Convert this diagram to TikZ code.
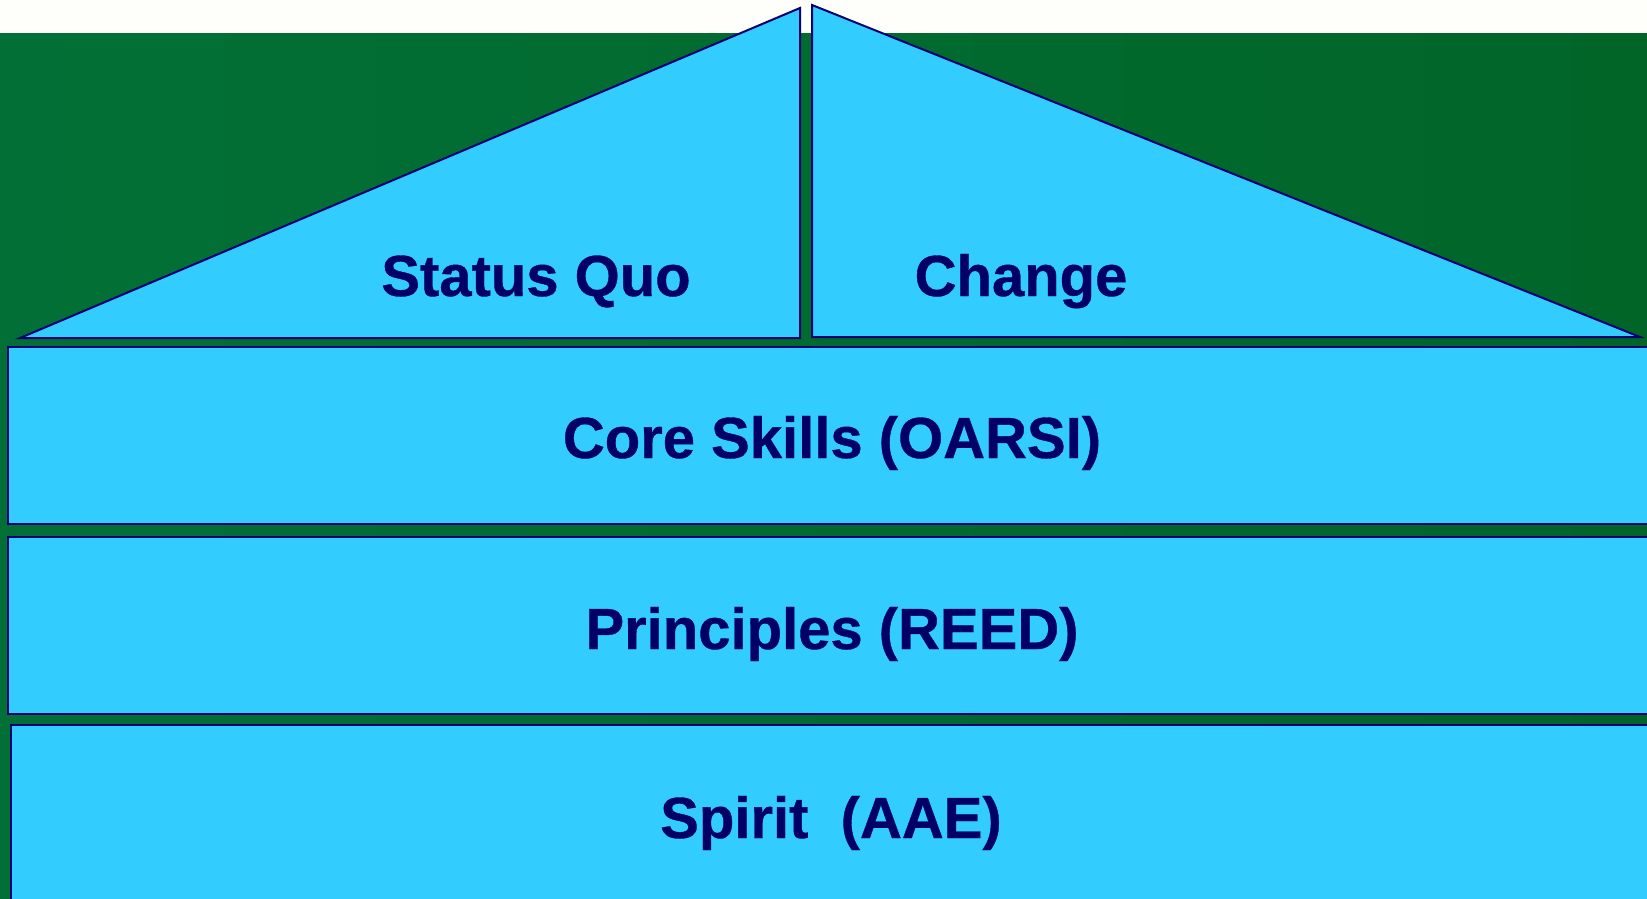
\documentclass[tikz,border=0pt]{standalone}
\usepackage{fontspec}
\setmainfont{Liberation Sans}[BoldFeatures={FakeBold=0.6}]
\definecolor{bggreen}{RGB}{3,106,46}
\definecolor{bgleft}{RGB}{2,112,54}
\definecolor{bgright}{RGB}{1,101,40}
\definecolor{skyfill}{RGB}{51,204,255}
\definecolor{navyline}{RGB}{0,0,115}
\definecolor{navytext}{RGB}{0,0,102}
\definecolor{topwhite}{RGB}{254,254,250}
\tikzset{
  block/.style={fill=skyfill, draw=navyline, line width=2pt, line join=miter},
  label/.style={text=navytext, font=\fontsize{58}{68}\selectfont\bfseries, inner sep=0pt, anchor=base}
}
\begin{document}
\begin{tikzpicture}[x=1pt,y=-1pt]
\useasboundingbox (0,0) rectangle (1647,899);
\clip (0,0) rectangle (1647,899);
\fill[topwhite] (0,0) rectangle (1647,34);
\shade[left color=bgleft, right color=bgright] (0,34) rectangle (1647,899);
% roof
\draw[block] (20,338) -- (800,8) -- (800,338) -- cycle;
\draw[block] (812,5) -- (1640,337) -- (812,337) -- cycle;
% layers
\draw[block] (8,347) rectangle (1665,524);
\draw[block] (8,537) rectangle (1665,714);
\draw[block] (11,725) rectangle (1665,915);
% texts
\node[label] (sq) at (536,296) {Status Quo};
\node[label] (ch) at (1021,296) {Change};
\node[label] (core) at (832,458) {Core Skills (OARSI)};
\node[label] (prin) at (832,649) {Principles (REED)};
\node[label] (spir) at (831,838) {Spirit\ \ (AAE)};
\end{tikzpicture}
\end{document}
